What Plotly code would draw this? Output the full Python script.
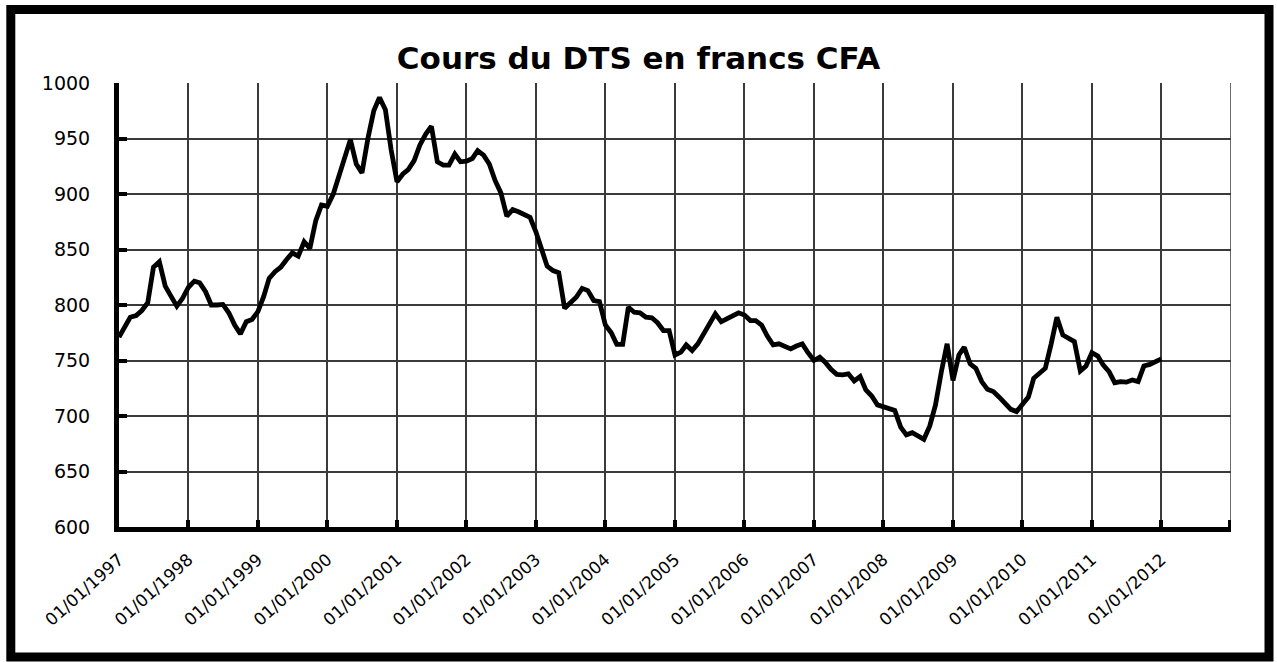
import pandas as pd
import plotly.graph_objects as go

# ---- data ----
title_text = "Cours du DTS en francs CFA"
start_month = "1997-01-01"
end_month = "2012-01-01"

dts_1997 = [771, 780, 789, 790.5, 795, 802, 834, 839, 817, 808, 799, 806]
dts_1998 = [816, 821.5, 820, 812, 800, 800, 800.5, 793, 782, 774, 785, 787]
dts_1999 = [794, 808, 824, 830, 834, 841, 847, 844, 857, 851, 876, 890]
dts_2000 = [889, 900, 915, 934, 949, 927, 919, 950, 975, 987, 976, 940]
dts_2001 = [911, 918, 922, 930, 944, 954, 961, 929, 926, 926, 936, 929]
dts_2002 = [929.5, 932, 939, 935, 927, 912, 901, 880, 886, 884, 881, 879]
dts_2003 = [866, 848, 835, 831, 829, 797, 802, 807, 815, 813, 804, 803]
dts_2004 = [782, 775, 764.5, 764.5, 798, 793.5, 793, 789, 788.5, 784, 777, 777]
dts_2005 = [755, 757.5, 764, 759, 765, 774, 783, 792, 785, 787.5, 790, 793]
dts_2006 = [791, 786, 786, 782, 772, 764, 765, 763, 760.5, 763, 765, 757]
dts_2007 = [750, 753, 748.5, 742, 737.5, 737, 738, 731.5, 735.5, 723.5, 718, 710]
dts_2008 = [708.5, 707, 705, 690, 683, 685, 682, 679, 691, 710, 740, 765]
dts_2009 = [732, 755, 762, 747, 743, 731, 724, 722, 717, 711, 706, 704]
dts_2010 = [710, 717, 734, 738, 743, 765, 789, 773, 770, 767, 740.5, 745]
dts_2011 = [757, 754, 746, 740, 730, 731, 730.5, 732.5, 731, 745, 746.5, 749.5]
dts_2012 = [751.5]

dts_values = (dts_1997 + dts_1998 + dts_1999 + dts_2000 + dts_2001 + dts_2002 +
              dts_2003 + dts_2004 + dts_2005 + dts_2006 + dts_2007 + dts_2008 +
              dts_2009 + dts_2010 + dts_2011 + dts_2012)
months = pd.date_range(start_month, end_month, freq="MS")

year_ticks = [f"{y}-01-01" for y in range(1997, 2014)]
year_labels = [f"01/01/{y}" for y in range(1997, 2013)] + [""]
y_ticks = [600, 650, 700, 750, 800, 850, 900, 950, 1000]

# ---- figure ----
W, H = 1277, 662
L, R, T, B = 119, 46, 83, 135
pw, ph = W - L - R, H - T - B


def px_x(px):
    return (px - L) / pw


def px_y(py):
    return (H - B - py) / ph


GRID = "#3a3a3a"

fig = go.Figure()
fig.add_trace(go.Scatter(
    x=months, y=dts_values, mode="lines",
    line=dict(color="black", width=4.8),
    hoverinfo="x+y", showlegend=False,
))

font_family = "DejaVu Sans"

fig.update_layout(
    width=W, height=H,
    margin=dict(l=L, r=R, t=T, b=B, pad=0),
    paper_bgcolor="white", plot_bgcolor="white",
    title=dict(text=title_text, x=0.5, xanchor="center",
               y=1 - 58 / H, yanchor="middle",
               font=dict(family=font_family, size=31, color="black", weight="bold")),
    font=dict(family=font_family, color="black"),
)

fig.update_xaxes(
    type="date", range=[year_ticks[0], year_ticks[-1]],
    tickmode="array", tickvals=year_ticks, ticktext=year_labels,
    tickangle=-42, tickfont=dict(family=font_family, size=17, color="black"),
    showline=True, linecolor="black", linewidth=5,
    ticks="inside", ticklen=7, tickwidth=4, tickcolor="black",
    showgrid=True, gridcolor=GRID, gridwidth=1.5,
    zeroline=False, ticklabelstandoff=11,
)
fig.update_yaxes(
    range=[600, 1000], tickmode="array", tickvals=y_ticks,
    tickfont=dict(family=font_family, size=19, color="black"),
    showline=True, linecolor="black", linewidth=5,
    ticks="inside", ticklen=8, tickwidth=4, tickcolor="black",
    showgrid=True, gridcolor=GRID, gridwidth=1.5,
    zeroline=False, ticklabelstandoff=20,
)

# right-edge gridline (last year boundary) and its tick
fig.add_shape(type="line", xref="x", yref="paper",
              x0=year_ticks[-1], x1=year_ticks[-1], y0=0, y1=1,
              line=dict(color=GRID, width=1.5), layer="below")
fig.add_shape(type="line", xref="x", yref="paper",
              x0=year_ticks[-1], x1=year_ticks[-1], y0=0, y1=px_y(H - B - 7),
              line=dict(color="black", width=6), layer="above")

# outer black frame
fig.add_shape(type="rect", xref="paper", yref="paper",
              x0=px_x(10.8), x1=px_x(1269), y0=px_y(657), y1=px_y(9.5),
              line=dict(color="black", width=9), fillcolor="rgba(0,0,0,0)",
              layer="above")

fig.write_html("out.html", config={"displayModeBar": False},
               post_script="document.body.style.margin='0';document.body.style.overflow='hidden';")
